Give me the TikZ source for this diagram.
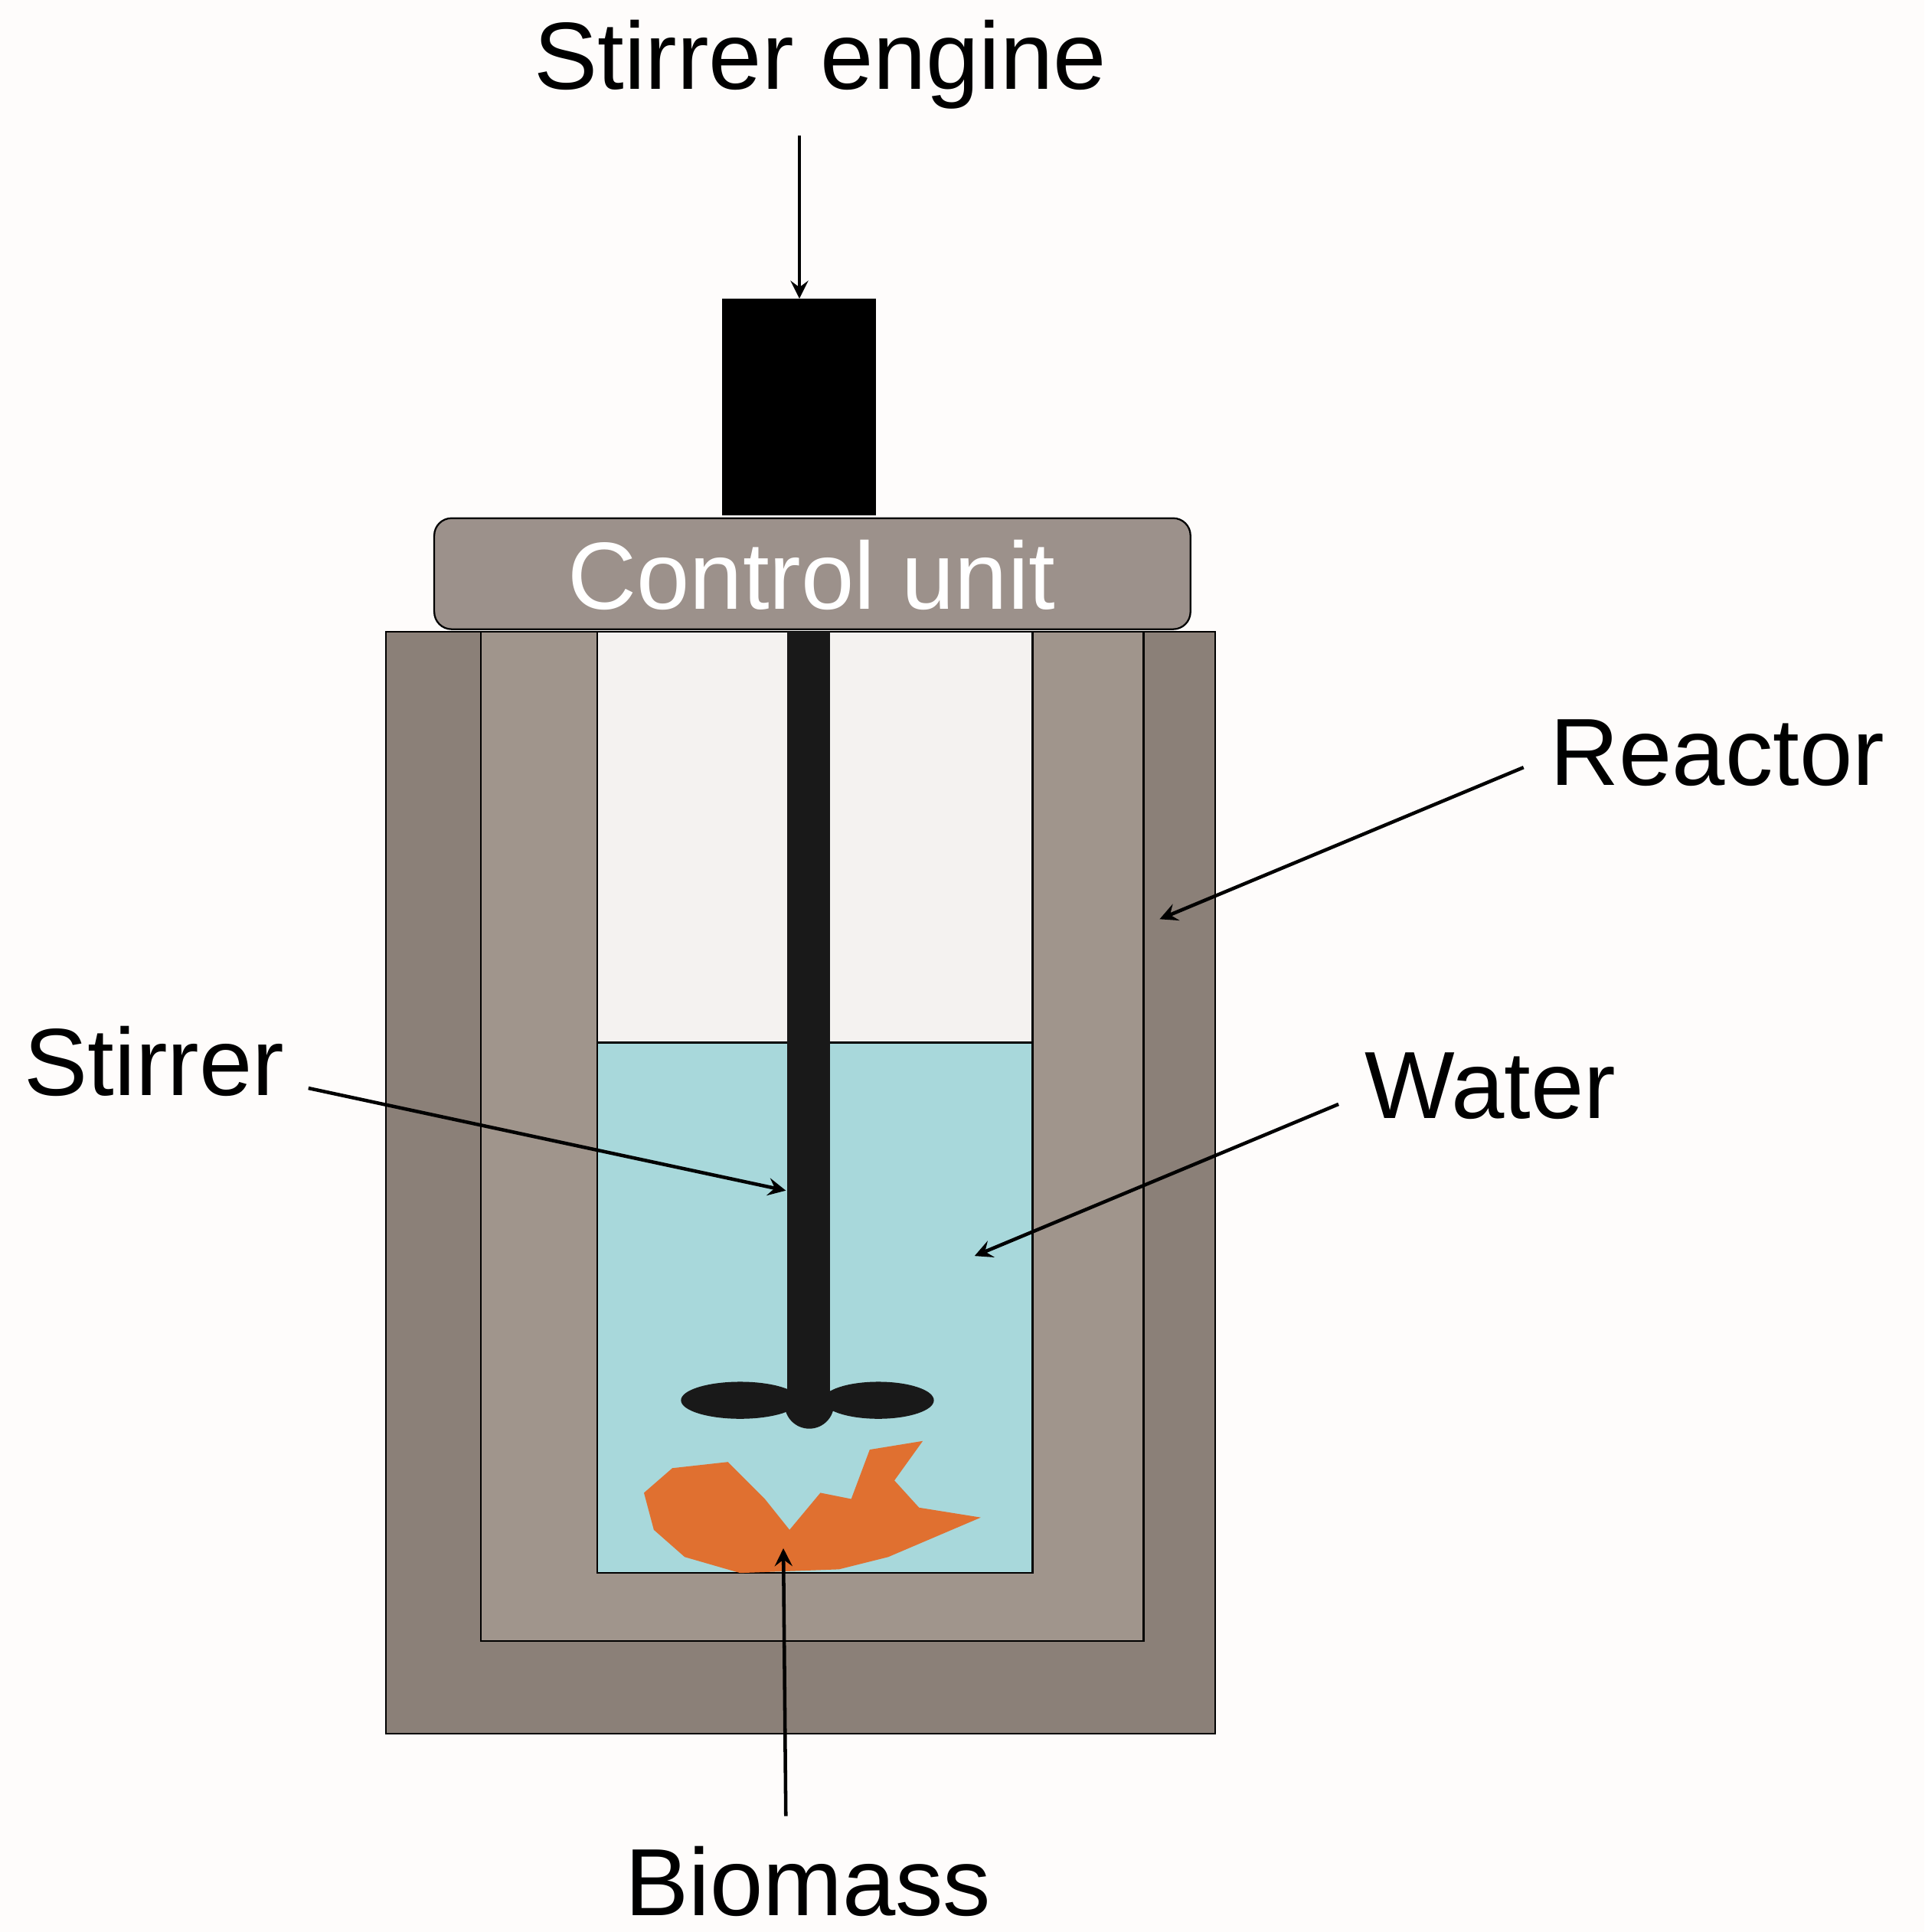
\documentclass[tikz,border=0pt]{standalone}
\usepackage{fontspec}
\setmainfont{Liberation Sans}
\definecolor{outerwall}{HTML}{8B8078}
\definecolor{innerwall}{HTML}{A0958C}
\definecolor{vessel}{HTML}{F4F2F0}
\definecolor{water}{HTML}{A8D8DB}
\definecolor{lid}{HTML}{9C918B}
\definecolor{bio}{HTML}{E07030}
\begin{document}
\begin{tikzpicture}[
        x=0.01cm, y=-0.01cm,
        wall/.style={draw=black, thin},
        label/.style={font=\fontsize{22}{26}\selectfont, inner sep=0pt},
        pointer/.style={->, thick, >=stealth}
      ]
        \fill[white!98!brown] (0,0) rectangle (1560,1566);
        \useasboundingbox (0,0) rectangle (1560,1566);

        % reactor body
        \filldraw[wall, fill=outerwall] (313,512) rectangle (985,1405);
        \filldraw[wall, fill=innerwall] (390,512) rectangle (927,1330);
        \filldraw[wall, fill=vessel] (484,512) rectangle (837,1275);
        \filldraw[wall, fill=water] (484,845) rectangle (837,1275);

        % control unit and engine
        \filldraw[wall, fill=lid, rounded corners=4] (352,420) rectangle (965,510);
        \node[label, text=white] (ctrl) at (658,466) {Control unit};
        \fill[black] (585,242) rectangle (710,418);
        \coordinate (engine) at (648,242);

        % stirrer
        \fill[black!90] (638,512) rectangle (673,1130);
        \fill[black!90] (600,1135) ellipse (48 and 15);
        \fill[black!90] (712,1135) ellipse (45 and 15);
        \fill[black!90] (656,1138) circle (20);
        \coordinate (stir) at (637,965);

        % biomass
        \fill[bio] (545,1190) -- (590,1185) -- (620,1215) -- (640,1240) -- (665,1210) -- (690,1215)
          -- (705,1175) -- (748,1168) -- (725,1200) -- (745,1222) -- (795,1230) -- (720,1262)
          -- (680,1272) -- (600,1275) -- (555,1262) -- (530,1240) -- (522,1210) -- cycle;
        \coordinate (bio) at (635,1255);

        \coordinate (wall) at (940,745);
        \coordinate (wat) at (790,1018);

        % labels
        \node[label] (lengine) at (665,52) {Stirrer engine};
        \node[label] (lreactor) at (1392,610) {Reactor};
        \node[label] (lstirrer) at (125,860) {Stirrer};
        \node[label] (lwater) at (1208,880) {Water};
        \node[label] (lbio) at (655,1525) {Biomass};

        \draw[pointer] (648,110) -- (engine);
        \draw[pointer] (1235,622) -- (wall);
        \draw[pointer] (250,882) -- (stir);
        \draw[pointer] (1085,895) -- (wat);
        \draw[pointer] (637,1472) -- (bio);
      \end{tikzpicture}
\end{document}
